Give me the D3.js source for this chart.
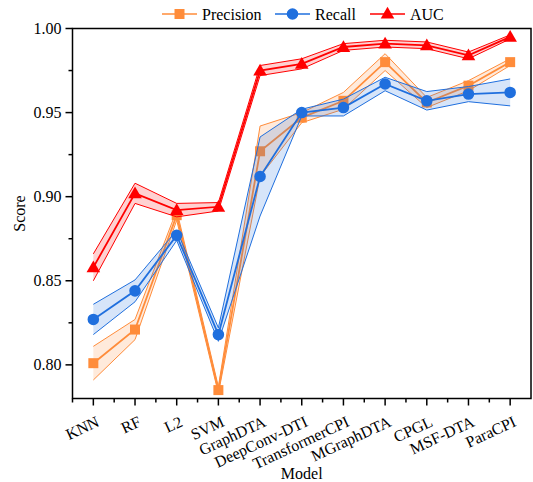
<!DOCTYPE html>
<html>
<head>
<meta charset="utf-8">
<script src="https://cdn.jsdelivr.net/npm/d3@7"></script>
<style>
  body { margin: 0; background: #fff; }
  svg { display: block; font-family: "Liberation Serif", "Times New Roman", serif; }
</style>
</head>
<body>
<div class="chart"></div>
<script>
// data
const models = ["KNN", "RF", "L2", "SVM", "GraphDTA", "DeepConv-DTI", "TransformerCPI",
                "MGraphDTA", "CPGL", "MSF-DTA", "ParaCPI"];

const precision    = [0.801, 0.821, 0.889, 0.785, 0.927, 0.947, 0.957, 0.980, 0.956, 0.966, 0.980];
const precisionErr = [0.010, 0.006, 0.003, 0.002, 0.015, 0.003, 0.005, 0.005, 0.003, 0.003, 0.002];

const recall    = [0.827, 0.844, 0.877, 0.818, 0.912, 0.950, 0.953, 0.967, 0.957, 0.961, 0.962];
const recallErr = [0.009, 0.0065, 0.003, 0.004, 0.0235, 0.002, 0.005, 0.004, 0.0055, 0.0045, 0.008];

const auc    = [0.858, 0.902, 0.892, 0.894, 0.975, 0.979, 0.989, 0.991, 0.990, 0.984, 0.995];
const aucErr = [0.008, 0.006, 0.004, 0.0025, 0.003, 0.003, 0.002, 0.002, 0.002, 0.002, 0.0012];

const yTicks = [0.80, 0.85, 0.90, 0.95, 1.00];

const series = [
    { name: "Precision", values: precision, err: precisionErr, color: "#FF8C3A", marker: "square" },
    { name: "Recall",    values: recall,    err: recallErr,    color: "#1F6FDE", marker: "circle" },
    { name: "AUC",       values: auc,       err: aucErr,       color: "#FF0000", marker: "triangle" }
];

const W = 533, H = 482;
const m = { left: 72.5, right: 531, top: 28.5, bottom: 398.5 };
const fs = 16;

const svg = d3.select(".chart").append("svg")
    .attr("width", W)
    .attr("height", H);

const x = d3.scalePoint().domain(models).range([m.left, m.right]).padding(0.5);
const y = d3.scaleLinear().domain([0.78, 1.0]).range([m.bottom, m.top]);

const symbols = {
    square: d3.symbol().type(d3.symbolSquare).size(100),
    circle: d3.symbol().type(d3.symbolCircle).size(105),
    triangle: d3.symbol().type(d3.symbolTriangle).size(80)
};

// bands, lines, markers
series.forEach(s => {
    const rows = models.map((name, i) => ({ name, v: s.values[i], e: s.err[i] }));
    const g = svg.append("g");

    g.append("path")
        .datum(rows)
        .attr("fill", s.color)
        .attr("fill-opacity", 0.18)
        .attr("d", d3.area().x(d => x(d.name)).y0(d => y(d.v - d.e)).y1(d => y(d.v + d.e)));

    [1, -1].forEach(k => {
        g.append("path")
            .datum(rows)
            .attr("fill", "none")
            .attr("stroke", s.color)
            .attr("stroke-width", 1)
            .attr("d", d3.line().x(d => x(d.name)).y(d => y(d.v + k * d.e)));
    });

    g.append("path")
        .datum(rows)
        .attr("fill", "none")
        .attr("stroke", s.color)
        .attr("stroke-width", 1.8)
        .attr("d", d3.line().x(d => x(d.name)).y(d => y(d.v)));

    g.selectAll(".mk")
        .data(rows)
        .join("path")
        .attr("transform", d => `translate(${x(d.name)},${y(d.v) + (s.marker === "triangle" ? 1 : 0)})`)
        .attr("d", symbols[s.marker]())
        .attr("fill", s.color);
});

// frame
svg.append("rect")
    .attr("x", m.left).attr("y", m.top)
    .attr("width", m.right - m.left).attr("height", m.bottom - m.top)
    .attr("fill", "none").attr("stroke", "#000").attr("stroke-width", 1.5);

// x axis
const xAxis = svg.append("g").attr("transform", `translate(0,${m.bottom})`);
const step = x.step();
const xMinor = models.slice(0, -1).map(d => x(d) + step / 2).concat([m.left]);
xAxis.selectAll(".maj").data(models).join("line")
    .attr("x1", d => x(d)).attr("x2", d => x(d))
    .attr("y1", 0).attr("y2", 7)
    .attr("stroke", "#000").attr("stroke-width", 1.5);
xAxis.selectAll(".min").data(xMinor).join("line")
    .attr("x1", d => d).attr("x2", d => d)
    .attr("y1", 0).attr("y2", 4)
    .attr("stroke", "#000").attr("stroke-width", 1.5);
xAxis.selectAll("text").data(models).join("text")
    .attr("transform", d => `translate(${x(d) + 7},27) rotate(-25)`)
    .attr("text-anchor", "end")
    .attr("font-size", fs)
    .text(d => d);

// y axis
const yAxis = svg.append("g").attr("transform", `translate(${m.left},0)`);
const yMinor = d3.range(0.775, 1.0, 0.05).filter(v => v > 0.78);
yAxis.selectAll(".maj").data(yTicks).join("line")
    .attr("x1", 0).attr("x2", -7)
    .attr("y1", d => y(d)).attr("y2", d => y(d))
    .attr("stroke", "#000").attr("stroke-width", 1.5);
yAxis.selectAll(".min").data(yMinor).join("line")
    .attr("x1", 0).attr("x2", -4)
    .attr("y1", d => y(d)).attr("y2", d => y(d))
    .attr("stroke", "#000").attr("stroke-width", 1.5);
yAxis.selectAll("text").data(yTicks).join("text")
    .attr("x", -11)
    .attr("y", d => y(d))
    .attr("dy", "0.35em")
    .attr("text-anchor", "end")
    .attr("font-size", fs)
    .text(d => d3.format(".2f")(d));

// axis titles
svg.append("text")
    .attr("transform", `translate(25,${(m.top + m.bottom) / 2}) rotate(-90)`)
    .attr("text-anchor", "middle")
    .attr("font-size", fs)
    .text("Score");
svg.append("text")
    .attr("x", (m.left + m.right) / 2)
    .attr("y", 479)
    .attr("text-anchor", "middle")
    .attr("font-size", fs)
    .text("Model");

// legend
const legendX = [162, 275, 370];
const legend = svg.append("g").attr("transform", "translate(0,14)");
series.forEach((s, i) => {
    const lg = legend.append("g").attr("transform", `translate(${legendX[i]},0)`);
    lg.append("line").attr("x1", 0).attr("x2", 35).attr("y1", 0).attr("y2", 0)
        .attr("stroke", s.color).attr("stroke-width", 1.5);
    lg.append("path")
        .attr("transform", `translate(17.5,${s.marker === "triangle" ? 0.5 : 0})`)
        .attr("d", symbols[s.marker]())
        .attr("fill", s.color);
    lg.append("text")
        .attr("x", 40).attr("y", 0).attr("dy", "0.35em")
        .attr("font-size", fs)
        .text(s.name);
});
</script>
</body>
</html>
